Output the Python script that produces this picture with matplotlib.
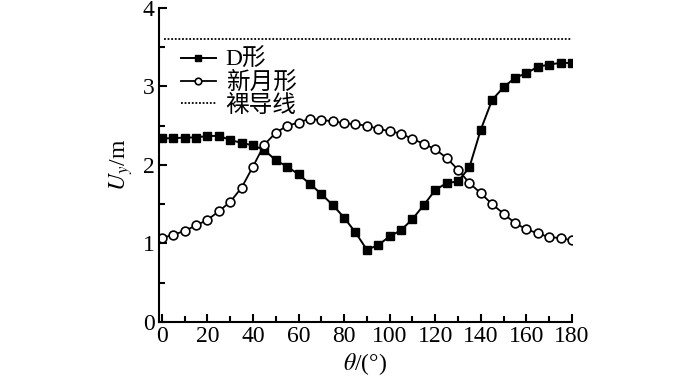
import numpy as np
import matplotlib
matplotlib.use("Agg")
import matplotlib.pyplot as plt
from matplotlib.ticker import MultipleLocator

plt.rcParams['font.family'] = ['Liberation Serif', 'Noto Sans CJK SC']
plt.rcParams['mathtext.fontset'] = 'stix'

# angle (degrees), every 5 degrees
theta = list(range(0, 181, 5))

# D-shaped ice
u_d = [2.34, 2.34, 2.35, 2.35, 2.37, 2.37, 2.32, 2.28, 2.25, 2.19,
       2.06, 1.98, 1.88, 1.76, 1.63, 1.49, 1.33, 1.14, 0.92, 0.98,
       1.09, 1.17, 1.31, 1.49, 1.68, 1.77, 1.79, 1.97, 2.45, 2.83,
       2.99, 3.11, 3.17, 3.25, 3.28, 3.30, 3.30]

# crescent-shaped ice
u_moon = [1.07, 1.11, 1.16, 1.23, 1.30, 1.41, 1.53, 1.71, 1.98, 2.26,
          2.41, 2.50, 2.54, 2.59, 2.57, 2.56, 2.53, 2.52, 2.50, 2.46,
          2.43, 2.40, 2.33, 2.27, 2.20, 2.09, 1.94, 1.77, 1.64, 1.50,
          1.38, 1.26, 1.18, 1.13, 1.08, 1.07, 1.04]

# bare conductor
bare_x = [1, 180]
bare_u = [3.6, 3.6]

labels = ["D形", "新月形", "裸导线"]

fig = plt.figure(figsize=(7, 3.81), dpi=100)
ax = fig.add_axes([0.227, 0.155, 0.59, 0.824])

ax.plot(theta, u_d, color='black', lw=1.4, marker='s', ms=5.5,
        mfc='black', mec='black', label=labels[0])
ax.plot(theta, u_moon, color='black', lw=1.3, marker='o', ms=6.3,
        mfc='white', mec='black', mew=1.2, label=labels[1])
ax.plot(bare_x, bare_u, color='black', lw=1.3, ls=(0, (1, 1)), label=labels[2])

ax.set_xlim(-1.3, 180)
ax.set_ylim(0, 4)
ax.xaxis.set_major_locator(MultipleLocator(20))
ax.xaxis.set_minor_locator(MultipleLocator(10))
ax.yaxis.set_major_locator(MultipleLocator(1))
ax.yaxis.set_minor_locator(MultipleLocator(0.5))

for s in ['top', 'right']:
    ax.spines[s].set_visible(False)
for s in ['left', 'bottom']:
    ax.spines[s].set_linewidth(1.5)

ax.tick_params(which='both', direction='in', width=1.5, labelsize=17)
ax.tick_params(which='major', length=6, pad=3)
ax.tick_params(which='minor', length=4)

ax.set_xlabel(r'$\theta$/(°)', fontsize=17, labelpad=3)
ax.set_ylabel(r'$U_y$/m', fontsize=17, labelpad=6)

leg = ax.legend(loc='upper left', bbox_to_anchor=(0.03, 0.90), frameon=False,
                fontsize=17, handlelength=1.5, handletextpad=0.4,
                labelspacing=0.03, borderaxespad=0, markerscale=0.75)

fig.savefig("out.png", dpi=100)
